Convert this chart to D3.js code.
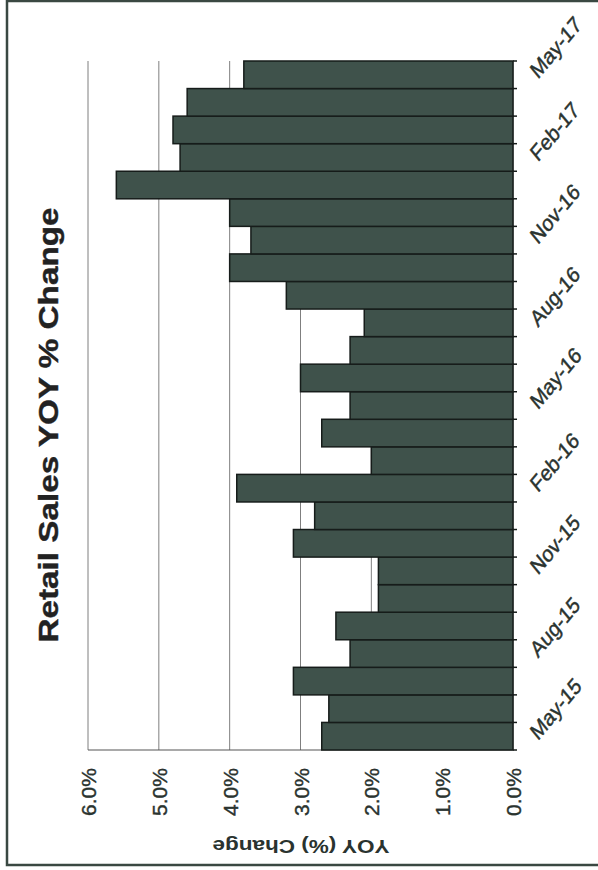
<!DOCTYPE html>
<html>
<head>
<meta charset="utf-8">
<script src="https://cdn.jsdelivr.net/npm/d3@7"></script>
<style>
  body { margin: 0; background: #fff; }
  text { font-family: Arial, "Liberation Sans", sans-serif; }
</style>
</head>
<body>
<svg width="598" height="870"></svg>
<script>
// months, oldest first (drawn bottom to top)
const months = ["May-15","Jun-15","Jul-15","Aug-15","Sep-15","Oct-15","Nov-15","Dec-15",
  "Jan-16","Feb-16","Mar-16","Apr-16","May-16","Jun-16","Jul-16","Aug-16","Sep-16","Oct-16",
  "Nov-16","Dec-16","Jan-17","Feb-17","Mar-17","Apr-17","May-17"];
// retail sales YOY % change
const yoy = [2.7, 2.6, 3.1, 2.3, 2.5, 1.9, 1.9, 3.1,
  2.8, 3.9, 2.0, 2.7, 2.3, 3.0, 2.3, 2.1, 3.2, 4.0,
  3.7, 4.0, 5.6, 4.7, 4.8, 4.6, 3.8];
const valueTicks = [0, 1, 2, 3, 4, 5, 6];
const labelEvery = 3;

const svg = d3.select('svg');

// outer frame
svg.append('rect')
  .attr('x', 7).attr('y', 1)
  .attr('width', 620).attr('height', 864)
  .attr('fill', 'none')
  .attr('stroke', '#3a4842')
  .attr('stroke-width', 2.5);

const x = d3.scaleLinear().domain([0, 6]).range([513, 88]);
const y = d3.scaleBand().domain(months).range([750, 61]).padding(0);

// gridlines
svg.append('g').selectAll('line')
  .data(valueTicks)
  .join('line')
  .attr('x1', d => x(d)).attr('x2', d => x(d))
  .attr('y1', 61).attr('y2', 750)
  .attr('stroke', '#7f7f7f')
  .attr('stroke-width', 1);

// base line
svg.append('line')
  .attr('x1', x(6)).attr('x2', x(0))
  .attr('y1', 750).attr('y2', 750)
  .attr('stroke', '#555')
  .attr('stroke-width', 1.2);

// bars
svg.append('g').selectAll('rect')
  .data(months)
  .join('rect')
  .attr('x', (d, i) => x(yoy[i]))
  .attr('y', d => y(d))
  .attr('width', (d, i) => x(0) - x(yoy[i]))
  .attr('height', y.bandwidth())
  .attr('fill', '#3f524b')
  .attr('stroke', '#161c1a')
  .attr('stroke-width', 1.5);

// category ticks between bars
svg.append('g').selectAll('line')
  .data(months.map(m => y(m) + y.bandwidth()).concat([61]))
  .join('line')
  .attr('x1', x(0)).attr('x2', x(0) + 4)
  .attr('y1', d => d).attr('y2', d => d)
  .attr('stroke', '#161c1a')
  .attr('stroke-width', 1.5);

// category labels (scan is a bit stretched vertically)
svg.append('g').selectAll('text')
  .data(months.filter((m, i) => i % labelEvery === 0))
  .join('text')
  .attr('transform', d => `translate(538,${y(d) + y.bandwidth() / 2 + 5}) scale(1,1.2) rotate(-45)`)
  .attr('text-anchor', 'start')
  .attr('font-size', 19)
  .attr('fill', '#2a332f')
  .attr('stroke', '#2a332f')
  .attr('stroke-width', 0.4)
  .text(d => d);

// value labels
const fmt = d3.format('.1%');
svg.append('g').selectAll('text')
  .data(valueTicks)
  .join('text')
  .attr('transform', d => `translate(${x(d) + 8},792) rotate(-90)`)
  .attr('text-anchor', 'middle')
  .attr('font-size', 21)
  .attr('fill', '#2a332f')
  .attr('stroke', '#2a332f')
  .attr('stroke-width', 0.4)
  .text(d => fmt(d / 100));

// axis title, upside down
svg.append('text')
  .attr('transform', 'translate(301,840) rotate(180)')
  .attr('text-anchor', 'middle')
  .attr('font-size', 18)
  .attr('font-weight', 'bold')
  .attr('fill', '#2a332f')
  .attr('textLength', 177)
  .attr('lengthAdjust', 'spacingAndGlyphs')
  .text('YOY (%) Change');

// chart title
svg.append('text')
  .attr('transform', 'translate(58,425) rotate(-90)')
  .attr('text-anchor', 'middle')
  .attr('font-size', 28)
  .attr('font-weight', 'bold')
  .attr('fill', '#222')
  .attr('stroke', '#222')
  .attr('stroke-width', 0.4)
  .attr('textLength', 435)
  .attr('lengthAdjust', 'spacingAndGlyphs')
  .text('Retail Sales YOY % Change');
</script>
</body>
</html>
